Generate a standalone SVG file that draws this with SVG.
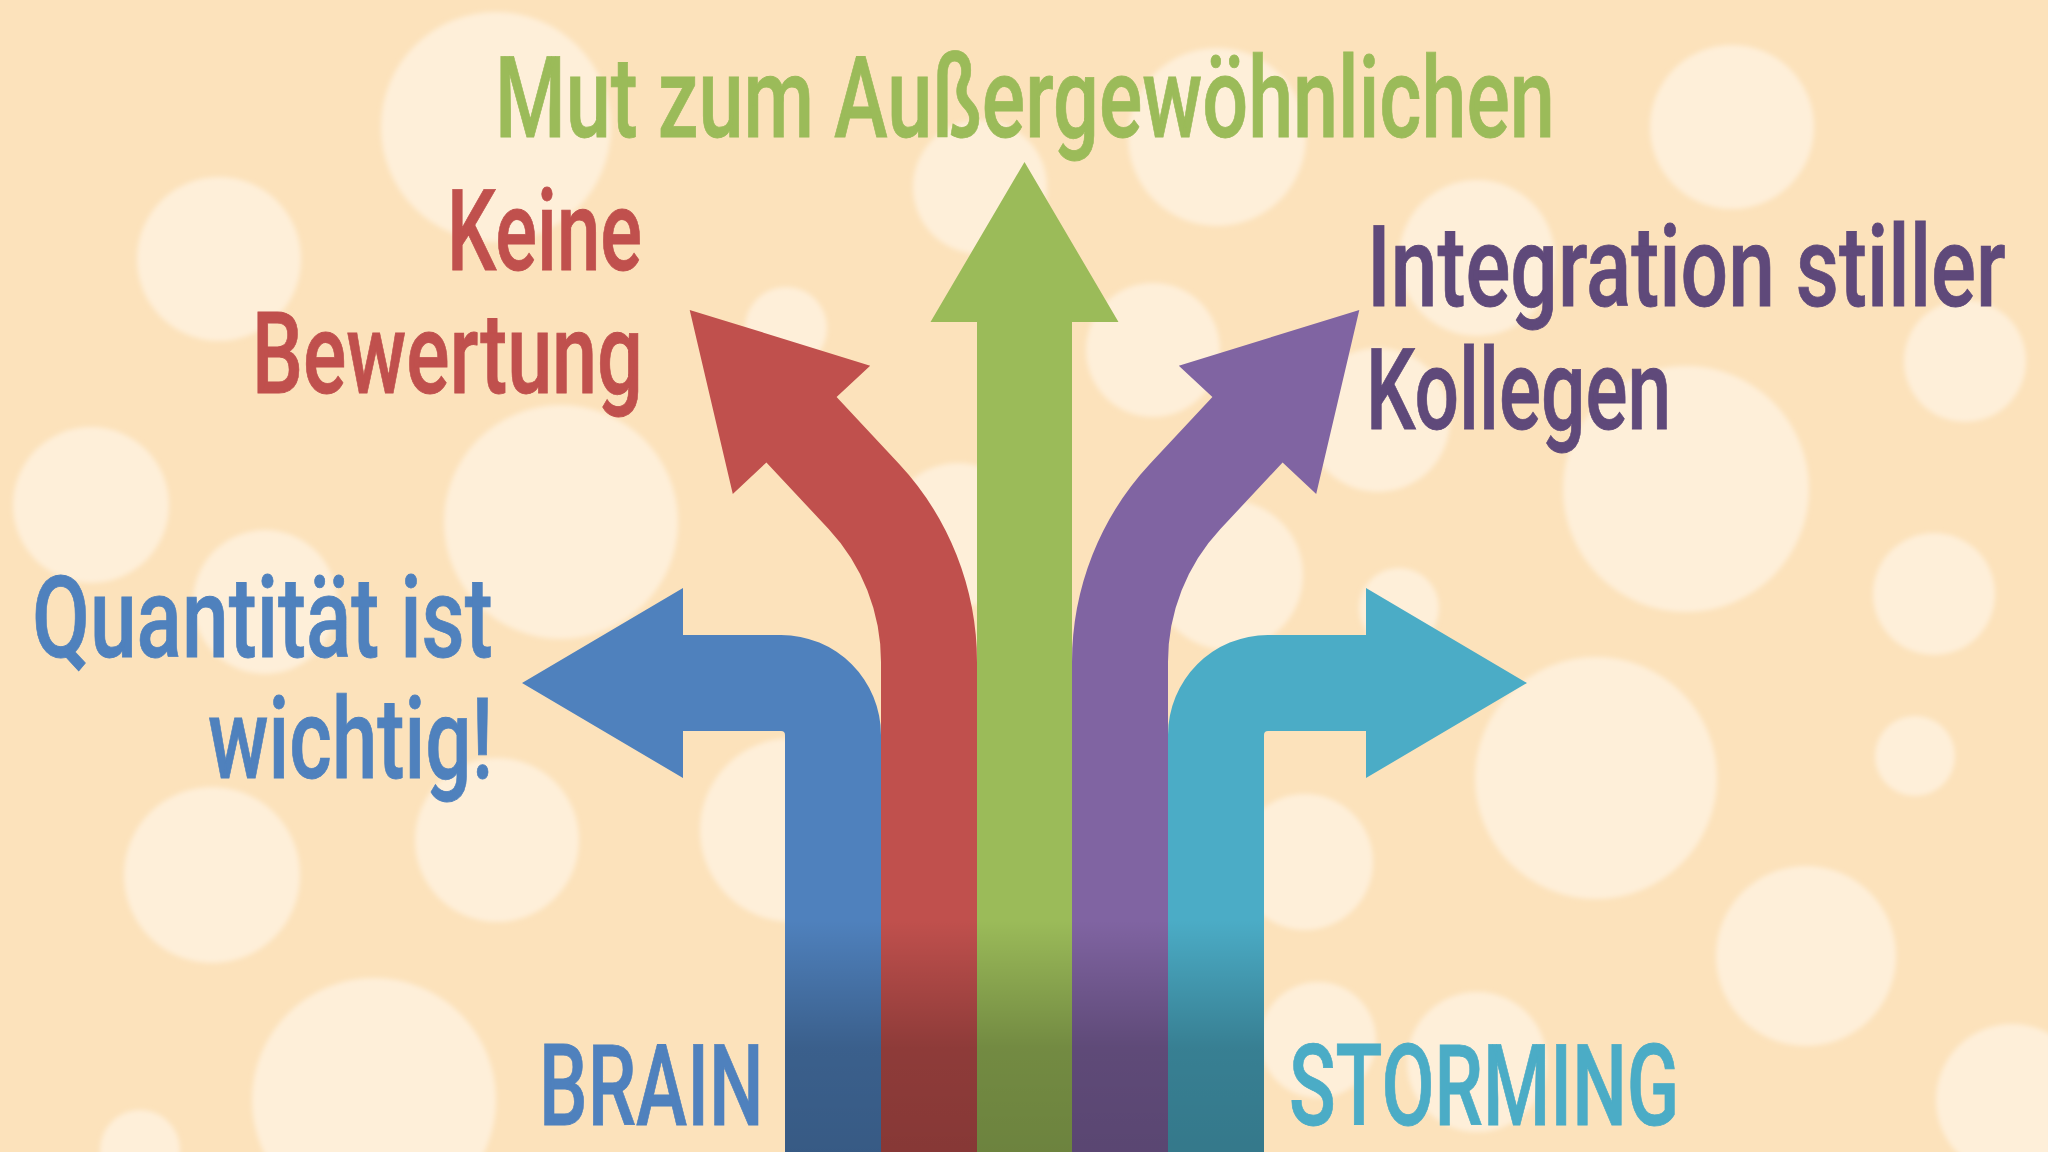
<svg xmlns="http://www.w3.org/2000/svg" width="2048" height="1152" viewBox="0 0 2048 1152">
  <defs>
    <style>
      .lbl { font-family: Roboto, "Liberation Sans", sans-serif; font-size: 114px; font-weight: 500; stroke-width: 0.8px; }
      .green { fill: #9BBB59; stroke: #9BBB59; }
      .red { fill: #C0504D; stroke: #C0504D; }
      .purple { fill: #5F497A; stroke: #5F497A; }
      .blue { fill: #4F81BD; stroke: #4F81BD; }
      .teal { fill: #4BACC6; stroke: #4BACC6; }
      .bokeh circle { fill: #FEEFD9; }
    </style>
    <filter id="soft" x="-5%" y="-5%" width="110%" height="110%">
      <feGaussianBlur stdDeviation="2.5"/>
    </filter>
    <linearGradient id="shade" gradientUnits="userSpaceOnUse" x1="0" y1="920" x2="0" y2="1152">
      <stop offset="0" stop-color="#000" stop-opacity="0"/>
      <stop offset="0.55" stop-color="#000" stop-opacity="0.26"/>
      <stop offset="1" stop-color="#000" stop-opacity="0.3"/>
    </linearGradient>
    <path id="curveArrow" d="M 881 1152 L 881 662 A 195 195 0 0 0 828.6 529 L 766.4 462.5 L 732.8 493.9 L 689.7 309.9 L 870.2 365.7 L 836.6 397.1 L 898.7 463.5 A 291 291 0 0 1 977 662 L 977 1152 Z"/>
    <path id="bendArrow" d="M 785 1152 L 785 735 A 4 4 0 0 0 781 731 L 683 731 L 683 778 L 522 683 L 683 588 L 683 635 L 781 635 A 100 100 0 0 1 881 735 L 881 1152 Z"/>
  </defs>

  <g id="background">
    <rect x="0" y="0" width="2048" height="1152" fill="#FCE2BB"/>
    <g class="bokeh" filter="url(#soft)">
      <circle cx="496" cy="127" r="115"/>
      <circle cx="219" cy="259" r="82"/>
      <circle cx="786" cy="328" r="41"/>
      <circle cx="91" cy="505" r="78"/>
      <circle cx="561" cy="522" r="117"/>
      <circle cx="980" cy="187" r="67"/>
      <circle cx="1217" cy="137" r="89"/>
      <circle cx="1153" cy="350" r="67"/>
      <circle cx="1732" cy="127" r="82"/>
      <circle cx="1477" cy="258" r="78"/>
      <circle cx="1686" cy="489" r="123"/>
      <circle cx="1965" cy="361" r="61"/>
      <circle cx="1934" cy="594" r="61"/>
      <circle cx="1596" cy="778" r="121"/>
      <circle cx="1915" cy="756" r="40"/>
      <circle cx="1806" cy="956" r="90"/>
      <circle cx="1477" cy="1062" r="70"/>
      <circle cx="1305" cy="862" r="68"/>
      <circle cx="2012" cy="1100" r="76"/>
      <circle cx="1318" cy="1040" r="58"/>
      <circle cx="212" cy="875" r="88"/>
      <circle cx="497" cy="840" r="82"/>
      <circle cx="374" cy="1100" r="122"/>
      <circle cx="792" cy="830" r="92"/>
      <circle cx="265" cy="602" r="72"/>
      <circle cx="958" cy="535" r="72"/>
      <circle cx="1378" cy="420" r="72"/>
      <circle cx="1228" cy="575" r="75"/>
      <circle cx="1399" cy="608" r="40"/>
      <circle cx="140" cy="1150" r="40"/>
    </g>
  </g>

  <g id="arrows">
    <use id="arrow-blue" href="#bendArrow" fill="#4F81BD"/>
    <use id="arrow-red" href="#curveArrow" fill="#C0504D"/>
    <path id="arrow-green" d="M 977 1152 L 977 322 L 930.5 322 L 1024.5 162 L 1118.5 322 L 1072 322 L 1072 1152 Z" fill="#9BBB59"/>
    <use id="arrow-purple" href="#curveArrow" fill="#8064A2" transform="translate(2049 0) scale(-1 1)"/>
    <use id="arrow-teal" href="#bendArrow" fill="#4BACC6" transform="translate(2049 0) scale(-1 1)"/>
    <rect id="stem-shade" x="785" y="900" width="479" height="252" fill="url(#shade)"/>
  </g>

  <g id="node-mut">
    <text class="lbl green" transform="translate(495 137) scale(0.72 1)" textLength="1472" lengthAdjust="spacingAndGlyphs">Mut zum Außergewöhnlichen</text>
  </g>
  <g id="node-keine">
    <text class="lbl red" transform="translate(447 270) scale(0.72 1)" textLength="271" lengthAdjust="spacingAndGlyphs">Keine</text>
    <text class="lbl red" transform="translate(252 393) scale(0.72 1)" textLength="543" lengthAdjust="spacingAndGlyphs">Bewertung</text>
  </g>
  <g id="node-integration">
    <text class="lbl purple" transform="translate(1367 306) scale(0.72 1)" textLength="887" lengthAdjust="spacingAndGlyphs">Integration stiller</text>
    <text class="lbl purple" transform="translate(1366 429) scale(0.72 1)" textLength="424" lengthAdjust="spacingAndGlyphs">Kollegen</text>
  </g>
  <g id="node-quantitaet">
    <text class="lbl blue" transform="translate(32 657) scale(0.72 1)" textLength="640" lengthAdjust="spacingAndGlyphs">Quantität ist</text>
    <text class="lbl blue" transform="translate(208 778) scale(0.72 1)" textLength="396" lengthAdjust="spacingAndGlyphs">wichtig!</text>
  </g>
  <g id="node-brain">
    <text class="lbl blue" transform="translate(539 1125) scale(0.72 1)" textLength="312" lengthAdjust="spacingAndGlyphs">BRAIN</text>
  </g>
  <g id="node-storming">
    <text class="lbl teal" transform="translate(1289 1125) scale(0.72 1)" textLength="542" lengthAdjust="spacingAndGlyphs">STORMING</text>
  </g>
</svg>
